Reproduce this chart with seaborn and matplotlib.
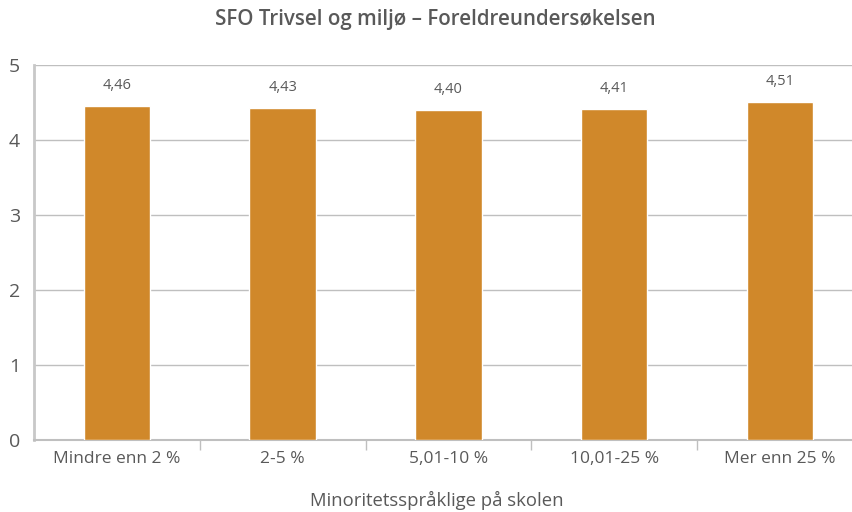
import matplotlib
matplotlib.use("Agg")
import matplotlib.pyplot as plt
import seaborn as sns
import pandas as pd

categories = ["Mindre enn 2 %", "2-5 %", "5,01-10 %", "10,01-25 %", "Mer enn 25 %"]
values = [4.46, 4.43, 4.40, 4.41, 4.51]
y_ticks = [0, 1, 2, 3, 4, 5]

title = "SFO Trivsel og miljø – Foreldreundersøkelsen"
x_title = "Minoritetsspråklige på skolen"

bar_color = "#D0882A"
text_color = "#595959"
grid_color = "#BFBFBF"

sns.set_theme(style="white")
plt.rcParams["font.family"] = ["Open Sans", "DejaVu Sans"]

df = pd.DataFrame({"kategori": categories, "verdi": values})

fig = plt.figure(figsize=(8.53, 5.12), dpi=100)
ax = fig.add_axes([34 / 853, 1 - 440 / 512, 828.75 / 853, 375 / 512])

sns.barplot(data=df, x="kategori", y="verdi", color=bar_color, saturation=1,
            width=0.4, ax=ax, zorder=3)

ax.set_xlim(-0.5, len(categories) - 0.5)
ax.set_ylim(0, 5)
ax.set_yticks(y_ticks)
ax.set_yticklabels([str(t) for t in y_ticks])
ax.yaxis.grid(True, color=grid_color, linewidth=1)
ax.set_axisbelow(True)

for s in ["top", "right"]:
    ax.spines[s].set_visible(False)
ax.spines["left"].set_color("#C8C8C8")
ax.spines["left"].set_linewidth(2)
ax.spines["bottom"].set_color(grid_color)
ax.spines["bottom"].set_linewidth(1.5)

# category separators on the x axis
ax.set_xticks([i + 0.5 for i in range(len(categories) - 1)], minor=True)
ax.tick_params(axis="x", which="minor", length=7, width=1, color=grid_color, bottom=True)
ax.tick_params(axis="x", which="major", length=0, pad=8, labelsize=12.5, labelcolor=text_color)
ax.tick_params(axis="y", length=0, pad=10, labelsize=14, labelcolor=text_color)

for i, v in enumerate(values):
    ax.text(i, v + 0.17, f"{v:.2f}".replace(".", ","), ha="center", va="bottom",
            fontsize=10.5, color=text_color)

ax.set_xlabel("")
ax.set_ylabel("")
fig.text(437 / 853, 1 - 500 / 512, x_title, ha="center", va="center", fontsize=13.3,
         color=text_color)
fig.text(435.5 / 853, 1 - 20 / 512, title, ha="center", va="center", fontsize=14.8,
         fontweight="semibold", color=text_color)

fig.savefig("out.png", dpi=100)
